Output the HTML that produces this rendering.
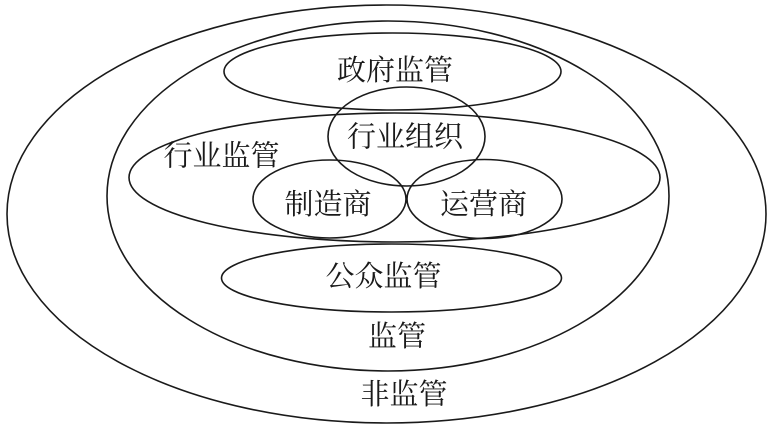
<!DOCTYPE html>
<html>
<head>
<meta charset="utf-8">
<style>
  html, body { margin: 0; padding: 0; background: #ffffff; }
  body { width: 774px; height: 430px; overflow: hidden; }
  svg { display: block; }
  text {
    font-family: "Liberation Serif", "Noto Serif CJK SC", serif;
    font-size: 29px;
    fill: #1a1a1a;
  }
</style>
</head>
<body>
<svg width="774" height="430" viewBox="0 0 774 430" xmlns="http://www.w3.org/2000/svg">
  <g fill="none" stroke="#1a1a1a" stroke-width="1.6">
    <!-- 非监管 outer -->
    <ellipse cx="386.5" cy="214" rx="379.5" ry="209"/>
    <!-- 监管 -->
    <ellipse cx="388" cy="196" rx="281" ry="175"/>
    <!-- 政府监管 -->
    <ellipse cx="392.5" cy="71.5" rx="168.5" ry="38.5"/>
    <!-- 行业监管 -->
    <ellipse cx="394.5" cy="177.5" rx="265.5" ry="64.5"/>
    <!-- 行业组织 -->
    <ellipse cx="406.5" cy="136.5" rx="78.5" ry="49.5"/>
    <!-- 制造商 -->
    <ellipse cx="329.5" cy="199" rx="76.5" ry="39"/>
    <!-- 运营商 -->
    <ellipse cx="484.5" cy="199" rx="77.5" ry="39.5"/>
    <!-- 公众监管 -->
    <ellipse cx="391.5" cy="278" rx="170" ry="34"/>
  </g>
  <g text-anchor="middle" dominant-baseline="central">
    <text x="395" y="71">政府监管</text>
    <text x="405" y="137.5">行业组织</text>
    <text x="221.5" y="156.5">行业监管</text>
    <text x="328" y="205">制造商</text>
    <text x="483.5" y="205">运营商</text>
    <text x="383.5" y="277">公众监管</text>
    <text x="397" y="337">监管</text>
    <text x="404" y="395">非监管</text>
  </g>
</svg>
</body>
</html>
